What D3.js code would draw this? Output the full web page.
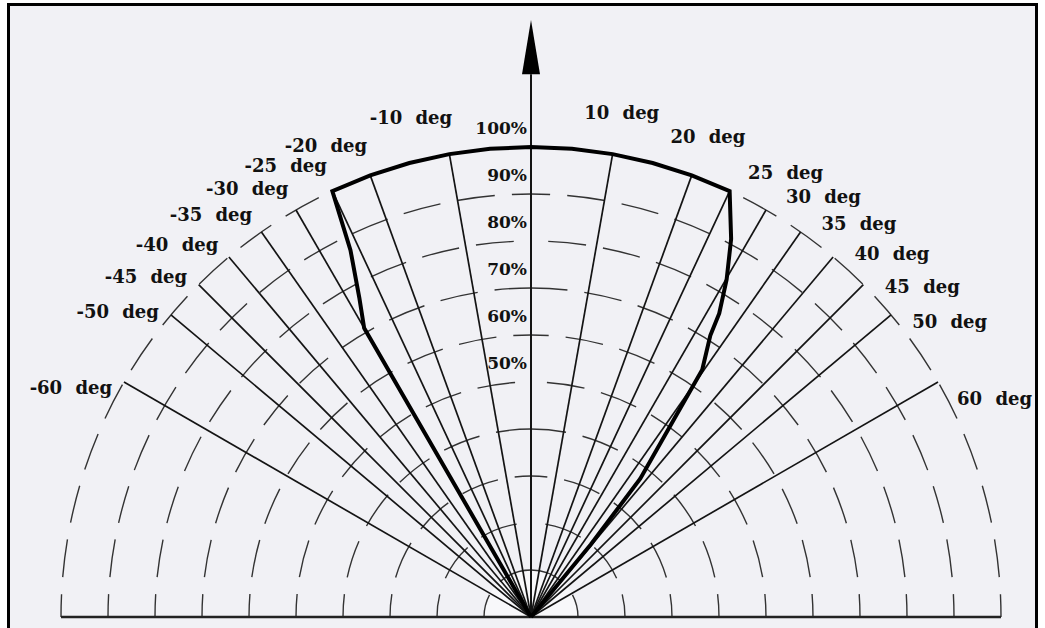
<!DOCTYPE html>
<html><head><meta charset="utf-8">
<script src="https://cdn.jsdelivr.net/npm/d3@7"></script>
<style>html,body{margin:0;padding:0;background:#fff;} svg{display:block;}</style>
</head><body><svg id="chart" width="1045" height="628"></svg>
<script>
// ---- data ----
const gridAngles = [-60,-50,-45,-40,-35,-30,-25,-20,-10,0,10,20,25,30,35,40,45,50,60];
const labelAngles = [-60,-50,-45,-40,-35,-30,-25,-20,-10,10,20,25,30,35,40,45,50,60];
const angleLabels = ["-60 deg","-50 deg","-45 deg","-40 deg","-35 deg","-30 deg","-25 deg","-20 deg","-10 deg",
                     "10 deg","20 deg","25 deg","30 deg","35 deg","40 deg","45 deg","50 deg","60 deg"];
const ringValues = [10,20,30,40,50,60,70,80,90,100];
const percentTickValues = [50,60,70,80,90,100];
const percentTickLabels = ["50%","60%","70%","80%","90%","100%"];
// measured curve (angle in deg, relative value in %)
const curveAngles = [-30,-30,-28.3,-26.2,-25,-20,-15,-10,-5,0,5,10,15,20,25,27.9,30.1,31.8,32.5,34.7,36,38.3,39.5,40];
const curveValues = [0,71,77,87,100,100,100,100,100,100,100,100,100,100,100,91,83,76,71,64,51,37.5,20,0];

// ---- layout ----
const W = 1045, H = 628;
const cx = 531, cy = 617, R = 470;
const svg = d3.select("#chart");
const rScale = d3.scaleLinear().domain([0,100]).range([0,R]);
const aScale = d3.scaleLinear().domain([-180,180]).range([-Math.PI,Math.PI]);
const px = (a,v) => cx + rScale(v)*Math.sin(aScale(a));
const py = (a,v) => cy - rScale(v)*Math.cos(aScale(a));

// frame + background
svg.append("rect").attr("x",0).attr("y",0).attr("width",W).attr("height",H).attr("fill","#fff");
svg.append("rect").attr("x",8.5).attr("y",4.5).attr("width",1028).attr("height",700)
  .attr("fill","#f1f1f5").attr("stroke","#000").attr("stroke-width",3);

// faint inner semicircle
const inner = d3.path();
inner.moveTo(cx - rScale(10), cy);
inner.arc(cx, cy, rScale(10), Math.PI, 2*Math.PI);
inner.closePath();
svg.append("path").attr("d", inner.toString()).attr("fill","#f8f8fa");

// dashed rings, each half drawn from the baseline upward
const ringG = svg.append("g");
ringValues.forEach(v => {
  const r = rScale(v);
  const pl = d3.path(); pl.arc(cx, cy, r, Math.PI, 1.5*Math.PI);
  const pr = d3.path(); pr.arc(cx, cy, r, 0, -0.5*Math.PI, true);
  [pl, pr].forEach(p => ringG.append("path").attr("d", p.toString())
    .attr("fill","none").attr("stroke","#333").attr("stroke-width",1.4)
    .attr("stroke-dasharray","38 17").attr("stroke-dashoffset",15));
});

// radial lines
svg.append("g").selectAll("line").data(gridAngles.filter(a => a !== 0)).join("line")
  .attr("x1", cx).attr("y1", cy)
  .attr("x2", a => px(a,100)).attr("y2", a => py(a,100))
  .attr("stroke","#141414").attr("stroke-width",1.7);

// baseline
svg.append("line").attr("x1", cx - rScale(100)).attr("x2", cx + rScale(100))
  .attr("y1", cy).attr("y2", cy).attr("stroke","#222").attr("stroke-width",2.4);

// vertical axis with arrow
const tipV = 127, baseV = 115.5;
svg.append("line").attr("x1",cx).attr("x2",cx).attr("y1",cy).attr("y2",cy - rScale(baseV))
  .attr("stroke","#141414").attr("stroke-width",2);
svg.append("path")
  .attr("d", `M${cx},${cy - rScale(tipV)} L${cx-9},${cy - rScale(baseV)} L${cx+9},${cy - rScale(baseV)} Z`)
  .attr("fill","#000");

// thick curve
const curveData = curveAngles.map((a,i) => ({a, v: curveValues[i]}));
const radial = d3.lineRadial().angle(d => aScale(d.a)).radius(d => rScale(d.v));
svg.append("path").attr("transform",`translate(${cx},${cy})`)
  .attr("d", radial(curveData)).attr("fill","none").attr("stroke","#000")
  .attr("stroke-width",4).attr("stroke-linejoin","miter");

// angle labels
const font = "'DejaVu Serif', serif";
const shift = a => a < 0 ? -3.5 : (a <= 20 ? 0.2 : 4.8);
const lr = a => a < 0 ? 109.4 : 109;
svg.append("g").selectAll("text").data(labelAngles).join("text")
  .attr("x", a => px(a + shift(a), lr(a)))
  .attr("y", a => py(a + shift(a), lr(a)))
  .attr("dy","0.36em").attr("text-anchor","middle")
  .attr("font-family", font).attr("font-weight","bold").attr("font-size",18)
  .attr("word-spacing", 7).attr("fill","#111")
  .text((a,i) => angleLabels[i]);

// percent labels
svg.append("g").selectAll("text").data(percentTickValues).join("text")
  .attr("x", cx - 4).attr("y", v => cy - rScale(v) - 19)
  .attr("dy","0.36em").attr("text-anchor","end")
  .attr("font-family", font).attr("font-weight","bold").attr("font-size",17)
  .attr("fill","#111")
  .text((v,i) => percentTickLabels[i]);
</script>
</body></html>
